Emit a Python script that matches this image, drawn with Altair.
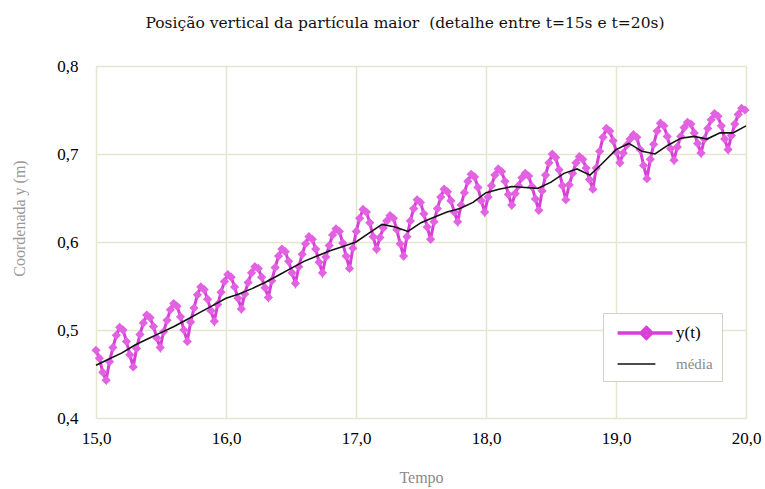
import altair as alt
import pandas as pd

# y(t) samples, one row per oscillation cycle (trough ... peak ... falling)
y_vals = [
    0.477, 0.468, 0.452,
    0.443, 0.464, 0.480, 0.494, 0.503, 0.500, 0.487, 0.472,
    0.458, 0.479, 0.495, 0.508, 0.517, 0.514, 0.504, 0.491,
    0.480, 0.498, 0.511, 0.523, 0.530, 0.527, 0.515, 0.500,
    0.487, 0.509, 0.525, 0.540, 0.549, 0.546, 0.535, 0.522,
    0.510, 0.529, 0.543, 0.555, 0.563, 0.560, 0.549, 0.536,
    0.524, 0.541, 0.554, 0.565, 0.572, 0.570, 0.560, 0.548,
    0.537, 0.556, 0.571, 0.584, 0.592, 0.589, 0.578, 0.565,
    0.553, 0.572, 0.586, 0.598, 0.606, 0.603, 0.592, 0.577,
    0.565, 0.583, 0.596, 0.608, 0.615, 0.612, 0.599, 0.584,
    0.570, 0.593, 0.612, 0.627, 0.637, 0.634, 0.622, 0.606,
    0.592, 0.605, 0.616, 0.624, 0.630, 0.627, 0.614, 0.598,
    0.584, 0.606, 0.624, 0.638, 0.648, 0.645, 0.632, 0.617,
    0.603, 0.623, 0.638, 0.651, 0.660, 0.657, 0.647, 0.634,
    0.623, 0.642, 0.656, 0.669, 0.677, 0.674, 0.662, 0.647,
    0.634, 0.651, 0.664, 0.676, 0.683, 0.680, 0.669, 0.654,
    0.642, 0.655, 0.664, 0.673, 0.678, 0.675, 0.663, 0.649,
    0.636, 0.658, 0.676, 0.690, 0.700, 0.696, 0.682, 0.664,
    0.648, 0.665, 0.678, 0.690, 0.697, 0.694, 0.684, 0.671,
    0.660, 0.684, 0.703, 0.719, 0.729, 0.726, 0.715, 0.702,
    0.690, 0.701, 0.710, 0.717, 0.722, 0.719, 0.705, 0.687,
    0.672, 0.694, 0.711, 0.726, 0.735, 0.732, 0.720, 0.706,
    0.693, 0.708, 0.720, 0.730, 0.736, 0.734, 0.724, 0.712,
    0.701, 0.717, 0.729, 0.739, 0.746, 0.743, 0.732, 0.717,
    0.705, 0.721, 0.734, 0.745, 0.752,
    0.750,
]
t_vals = [round(15.0 + 0.026 * i, 3) for i in range(len(y_vals))]

# running mean ("média"), read every 0.1 s
mean_vals = [
    0.460, 0.467, 0.474, 0.483, 0.490, 0.497, 0.504, 0.512, 0.520, 0.528,
    0.536, 0.541, 0.547, 0.554, 0.562, 0.570, 0.578, 0.584, 0.590, 0.595,
    0.600, 0.610, 0.620, 0.617, 0.612, 0.622, 0.628, 0.634, 0.638, 0.645,
    0.656, 0.660, 0.663, 0.662, 0.661, 0.668, 0.678, 0.683, 0.676, 0.690,
    0.705, 0.712, 0.703, 0.700, 0.710, 0.718, 0.720, 0.717, 0.724, 0.724,
    0.732,
]
mean_t = [round(15.0 + 0.1 * i, 1) for i in range(len(mean_vals))]

series_names = ["y(t)", "média"]
x_ticks = [15, 16, 17, 18, 19, 20]
y_ticks = [0.4, 0.5, 0.6, 0.7, 0.8]

MAG = "#d83fd8"
MAG_FILL = "#e262e2"
FONT = "Liberation Serif"

df_y = pd.DataFrame({"t": t_vals, "y": y_vals})
df_m = pd.DataFrame({"t": mean_t, "y": mean_vals})
df_leg = pd.DataFrame({"serie": series_names, "t": [None, None], "y": [None, None]})

x_enc = alt.X(
    "t:Q",
    scale=alt.Scale(domain=[15, 20], nice=False, zero=False),
    axis=alt.Axis(
        values=x_ticks,
        labelExpr="replace(format(datum.value, '.1f'), '.', ',')",
        title="Tempo",
        titleColor="#8a8a8a",
        titleFont=FONT,
        titleFontSize=16,
        titleFontWeight="normal",
        titlePadding=23,
        labelFont=FONT,
        labelFontSize=17,
        labelColor="#000000",
        labelPadding=12,
        labelFlush=False,
        labelOverlap=False,
        domain=False,
        ticks=False,
        grid=True,
        gridColor="#e6e6cf",
        gridWidth=1.5,
    ),
)
y_enc = alt.Y(
    "y:Q",
    scale=alt.Scale(domain=[0.4, 0.8], nice=False, zero=False),
    axis=alt.Axis(
        values=y_ticks,
        labelExpr="replace(format(datum.value, '.1f'), '.', ',')",
        title="Coordenada y (m)",
        titleColor="#999999",
        titleFont=FONT,
        titleFontSize=16,
        titleFontWeight="normal",
        titlePadding=29,
        titleY=152,
        labelFont=FONT,
        labelFontSize=17,
        labelColor="#000000",
        labelPadding=18,
        labelFlush=False,
        domain=False,
        ticks=False,
        grid=True,
        gridColor="#e6e6cf",
        gridWidth=1.5,
    ),
)

line_y = alt.Chart(df_y).mark_line(color=MAG, strokeWidth=3).encode(x=x_enc, y=y_enc)
pts_y = alt.Chart(df_y).mark_point(
    shape="diamond", filled=True, size=85, color=MAG_FILL, opacity=1
).encode(x="t:Q", y="y:Q")
line_m = alt.Chart(df_m).mark_line(color="#111111", strokeWidth=1.6).encode(x="t:Q", y="y:Q")

path_yt = "M-0.6,0L5.5,0M2.6,-0.6L3.2,0L2.6,0.6L2.0,0Z"
path_med = "M-0.6,0L3.6,0"

leg = alt.Legend(
    orient="none",
    legendX=507,
    legendY=247,
    title=None,
    fillColor="#ffffff",
    strokeColor="#d0d0c4",
    padding=9,
    symbolSize=324,
    rowPadding=8,
    labelFont=FONT,
    labelFontSize=alt.ExprRef(expr="datum.label == 'y(t)' ? 17 : 15"),
    labelOffset=42,
    labelColor=alt.ExprRef(expr="datum.label == 'y(t)' ? '#000000' : '#8a8a8a'"),
)

legend_layer = alt.Chart(df_leg).mark_point(filled=True, opacity=1).encode(
    x="t:Q",
    y="y:Q",
    stroke=alt.Stroke("serie:N", scale=alt.Scale(domain=series_names, range=[MAG, "#111111"]), legend=leg),
    fill=alt.Fill("serie:N", scale=alt.Scale(domain=series_names, range=[MAG_FILL, "transparent"]), legend=leg),
    shape=alt.Shape("serie:N", scale=alt.Scale(domain=series_names, range=[path_yt, path_med]), legend=leg),
    strokeWidth=alt.StrokeWidth("serie:N", scale=alt.Scale(domain=series_names, range=[3.5, 1.5]), legend=leg),
)

chart = (
    alt.layer(line_y, pts_y, line_m, legend_layer)
    .properties(
        width=650,
        height=352,
        autosize=alt.AutoSizeParams(type="none"),
        padding={"left": 96, "top": 66, "right": 19, "bottom": 71},
        title=alt.TitleParams(
            "Posição vertical da partícula maior \u00a0(detalhe entre t=15s e t=20s)",
            font="DejaVu Serif",
            fontSize=15.5,
            fontWeight="normal",
            color="#111111",
            anchor="middle",
            dx=-16,
            offset=26,
        ),
    )
    .configure_view(stroke="#d6d6c4", strokeWidth=1.5)
    .configure(background="#ffffff")
)

chart.save("out.html", embed_options={"renderer": "svg", "actions": False})
